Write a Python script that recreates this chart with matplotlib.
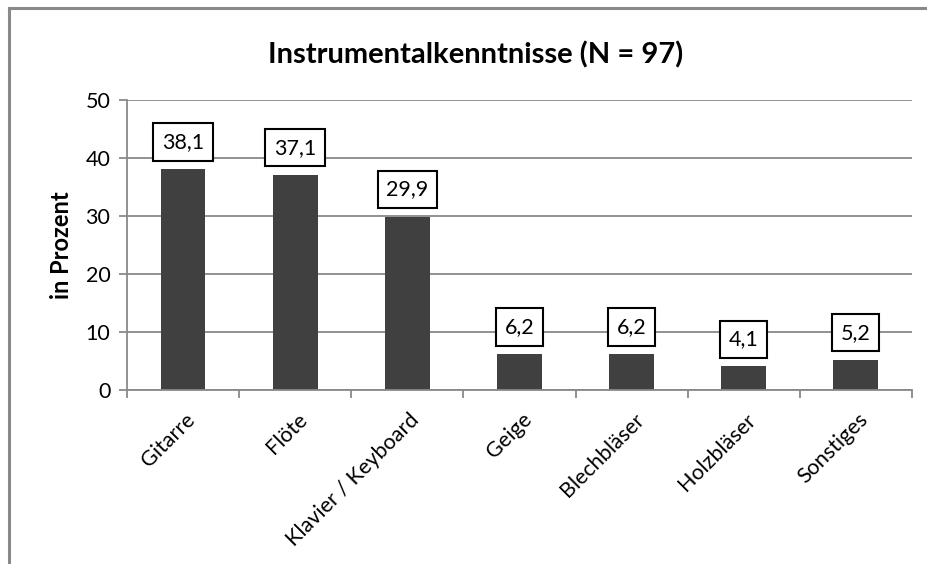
import numpy as np
import matplotlib
matplotlib.use("Agg")
import matplotlib.pyplot as plt
from matplotlib.lines import Line2D
from matplotlib.ticker import FixedLocator

plt.rcParams['font.family'] = ['Lato', 'DejaVu Sans']

# data
categories = ['Gitarre', 'Flöte', 'Klavier / Keyboard', 'Geige',
              'Blechbläser', 'Holzbläser', 'Sonstiges']
values = [38.1, 37.1, 29.9, 6.2, 6.2, 4.1, 5.2]
value_labels = ['38,1', '37,1', '29,9', '6,2', '6,2', '4,1', '5,2']

grey = '#898989'
bar_col = '#404040'

fig = plt.figure(figsize=(9.28, 5.64), dpi=100)

# outer chart frame, only its top and left edge are inside the picture
fx, fy = 9.5 / 928, 1 - 7.5 / 564
fig.lines.append(Line2D([fx, 1.0], [fy, fy], transform=fig.transFigure,
                        color=grey, linewidth=2.2))
fig.lines.append(Line2D([fx, fx], [0.0, fy], transform=fig.transFigure,
                        color=grey, linewidth=2.2))

ax = fig.add_axes([127 / 928, 1 - 390 / 564, 785 / 928, 290 / 564])

x = np.arange(len(categories))
ax.bar(x, values, width=0.4, color=bar_col, zorder=3)

ax.set_xlim(-0.5, len(categories) - 0.5)
ax.set_ylim(0, 50)
ax.set_yticks([0, 10, 20, 30, 40, 50])
ax.yaxis.grid(True, color=grey, linewidth=1.3, zorder=0)

for s in ['top', 'right']:
    ax.spines[s].set_visible(False)
for s in ['left', 'bottom']:
    ax.spines[s].set_color(grey)
    ax.spines[s].set_linewidth(1.3)
    ax.spines[s].set_zorder(4)

ax.tick_params(axis='y', length=6, width=1.3, color=grey, labelsize=15.5, pad=6)

# category boundaries get the tick marks, labels sit in the middle
ax.set_xticks(x)
ax.xaxis.set_minor_locator(FixedLocator(np.arange(-0.5, len(categories), 1)))
ax.tick_params(axis='x', which='major', length=0, pad=14)
ax.tick_params(axis='x', which='minor', length=6, width=1.3, color=grey)
ax.set_xticklabels(categories, rotation=45, ha='right', va='top',
                   rotation_mode='anchor', fontsize=15.5)
offset = matplotlib.transforms.ScaledTranslation(2 / 100, 0, fig.dpi_scale_trans)
for lbl in ax.get_xticklabels():
    lbl.set_transform(lbl.get_transform() + offset)

for xi, v, t in zip(x, values, value_labels):
    ax.annotate(t, (xi, v), xytext=(0, 27), textcoords='offset pixels',
                ha='center', va='center', fontsize=15.5, zorder=5,
                bbox=dict(boxstyle='square,pad=0.4', facecolor='white',
                          edgecolor='black', linewidth=1.5))

ax.set_ylabel('in Prozent', fontsize=17, fontweight='bold', labelpad=9)
fig.text(476 / 928, 1 - 55 / 564, 'Instrumentalkenntnisse (N = 97)',
         ha='center', va='center', fontsize=21, fontweight='bold')

fig.savefig('out.png', dpi=100)
